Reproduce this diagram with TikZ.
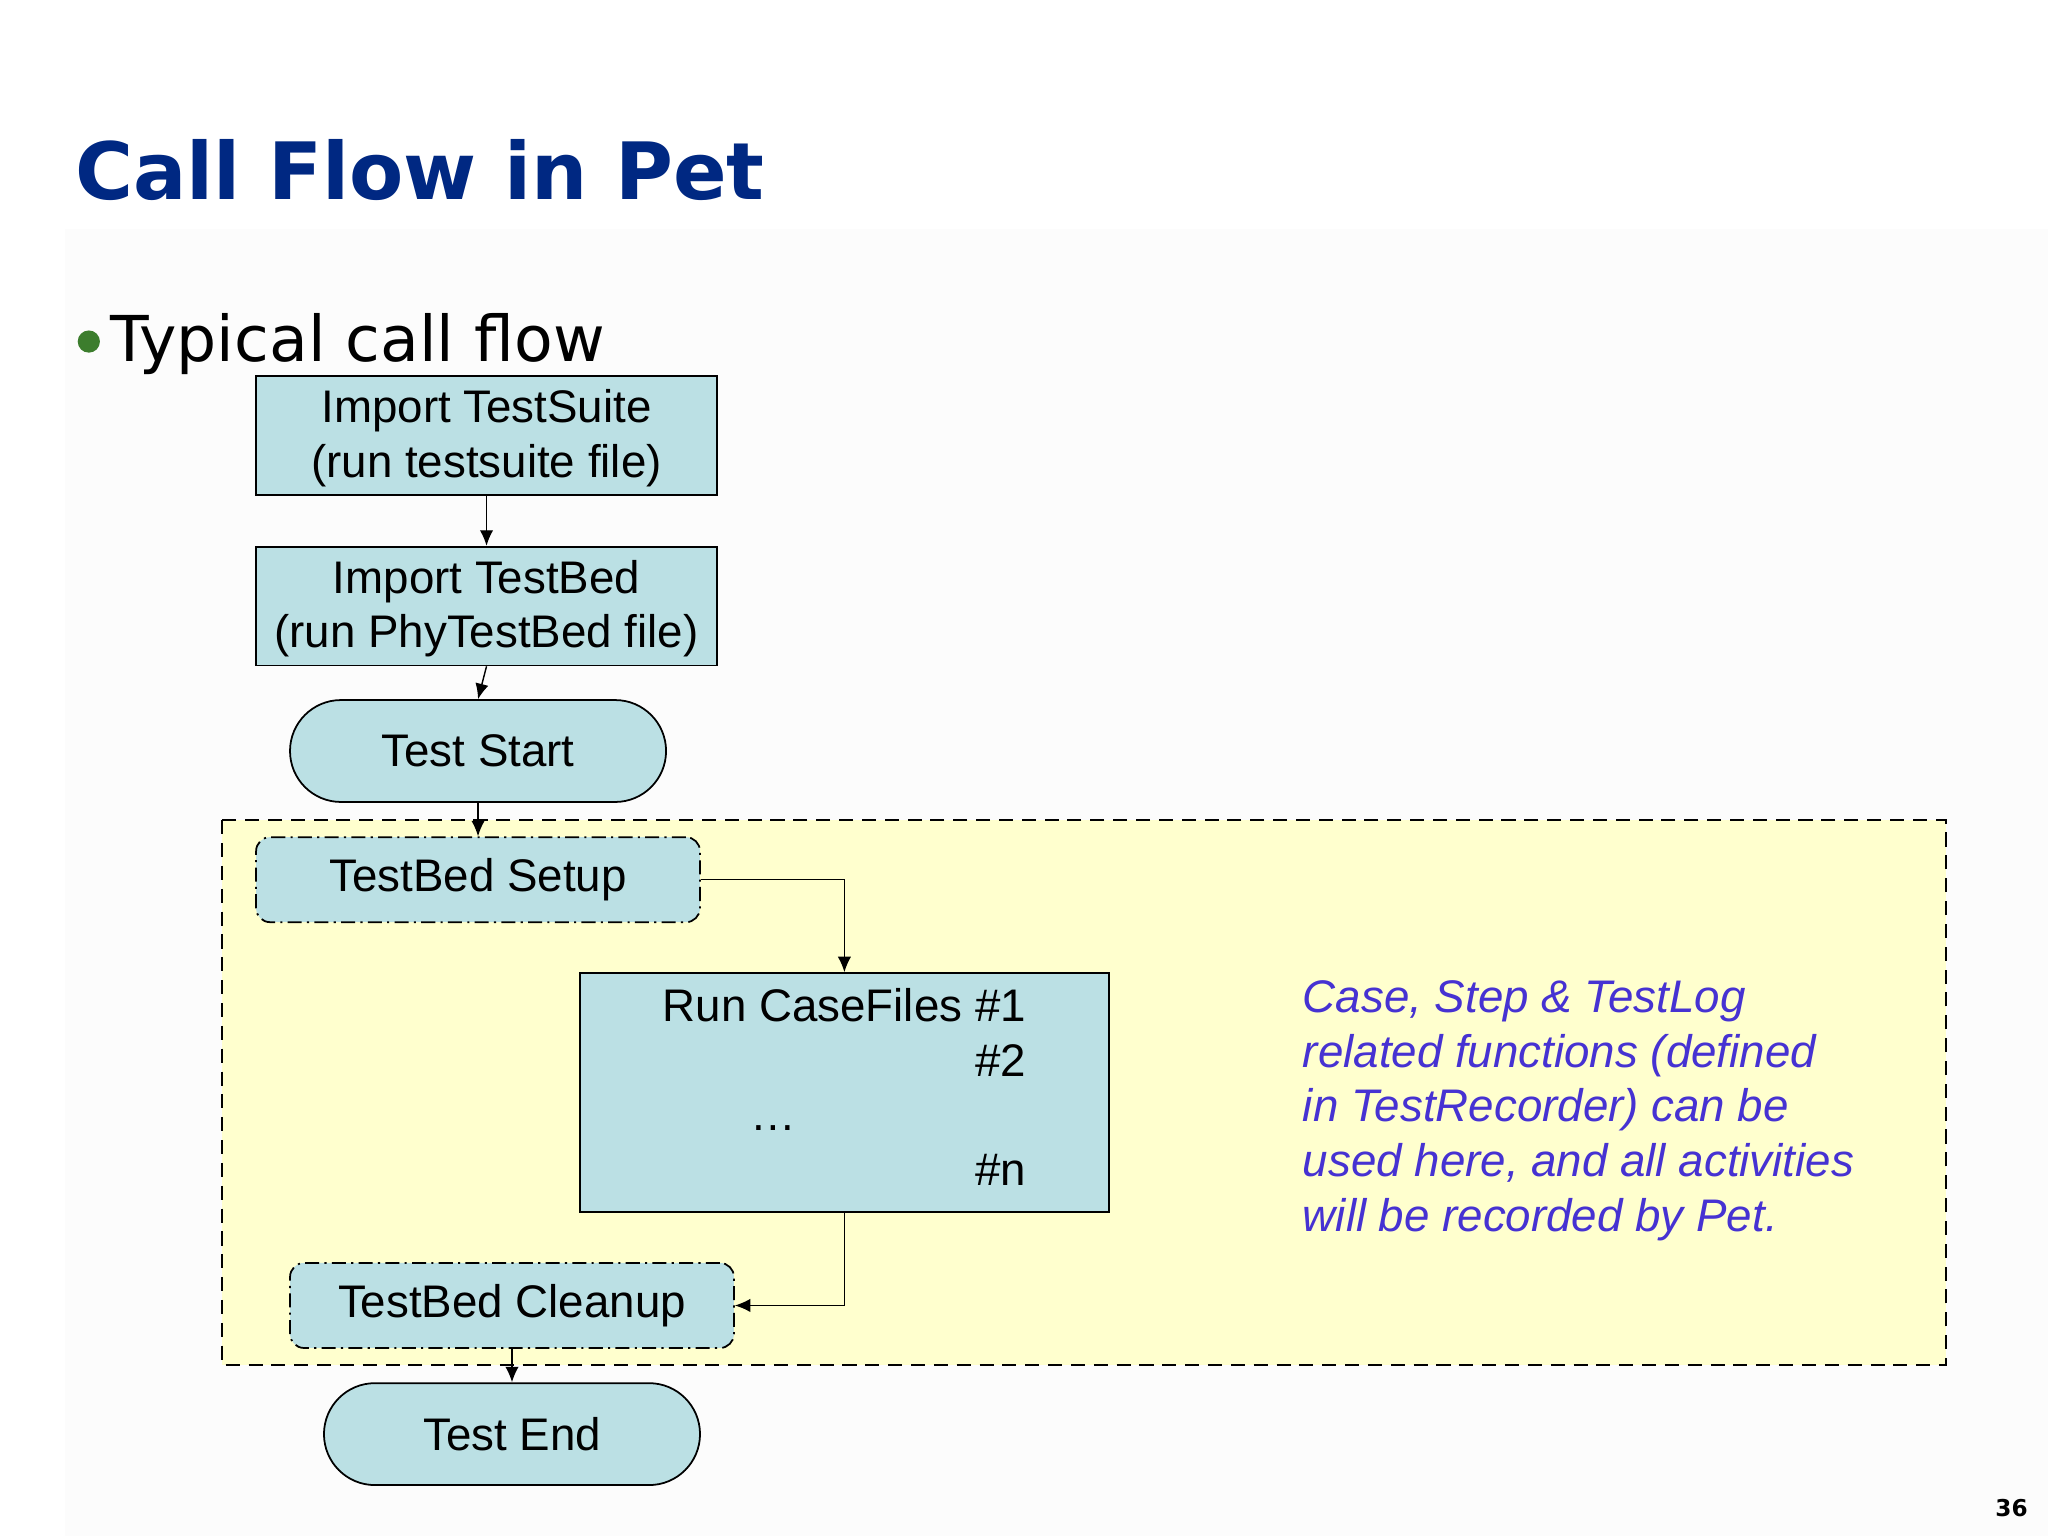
\documentclass[tikz,border=0pt]{standalone}
\usepackage{fontspec}
\setmainfont{Liberation Sans}
\newfontfamily\slidefont{DejaVu Sans}
\usepackage{tikz}
\usetikzlibrary{arrows.meta}
\tikzset{>={Latex[length=4.4pt,width=3.8pt]}}

\definecolor{boxblue}{RGB}{187,224,228}
\definecolor{noteyellow}{RGB}{255,255,206}
\definecolor{titleblue}{RGB}{0,40,130}
\definecolor{dotgreen}{RGB}{60,125,45}
\definecolor{noteviolet}{RGB}{70,50,210}

\tikzset{
  box/.style={draw, fill=boxblue, line width=0.5pt, inner sep=0pt, align=center,
    font=\fontsize{13}{15.6}\selectfont},
  filebox/.style={box, minimum width=131.2pt, minimum height=33.8pt},
  term/.style={box, rounded corners=14.5pt, minimum width=107pt, minimum height=29pt},
  bedbox/.style={box, rounded corners=4pt, minimum width=126.3pt, minimum height=24.2pt,
    dash pattern=on 4pt off 1.5pt on 0.6pt off 1.5pt},
}

\begin{document}
\begin{tikzpicture}[x=0.013061cm, y=-0.013061cm]
                \useasboundingbox (0,0) rectangle (1568,1176);
                \fill[white] (0,0) rectangle (1568,1176);
                \fill[black!1] (50,175) rectangle (1568,1176);
                % heading
                \node[anchor=base west, inner sep=0pt, text=titleblue,
                  font=\slidefont\bfseries\fontsize{22.5}{26}\selectfont] (title) at (57,153) {Call Flow in Pet};
                \fill[dotgreen] (68,261.5) circle[radius=8.5];
                \node[anchor=base west, inner sep=0pt,
                  font=\slidefont\fontsize{18}{21}\selectfont] (bullet) at (84,277) {Typical call flow};
                % region for the test recorder
                \draw[fill=noteyellow, line width=0.5pt, dash pattern=on 4pt off 2.5pt] (170,628) rectangle (1490,1045);
                \node[filebox] (suite) at (372.5,333.5) {\strut Import TestSuite\\(run testsuite file)};
                \node[filebox] (bed) at (372.5,464) {\strut Import TestBed\\(run PhyTestBed file)};
                \node[term] (start) at (366,575) {Test Start};
                \node[bedbox] (setup) at (366,673.5) {TestBed Setup};
                \node[box, minimum width=150.5pt, minimum height=68pt] (cases) at (646.5,836.5)
                  {\begin{tabular}{@{}l@{\ }r@{}}Run CaseFiles & \#1\\ & \#2\\ \hspace{25pt}\ldots & \\ & \#n\end{tabular}};
                \node[bedbox] (cleanup) at (392,999.5) {TestBed Cleanup};
                \node[term] (end) at (392,1098) {Test End};
                \node[anchor=north west, inner sep=0pt, align=left, text=noteviolet,
                  font=\itshape\fontsize{13}{15.6}\selectfont] (note) at (997,750)
                  {Case, Step \& TestLog\\related functions (defined\\in TestRecorder) can be\\used here, and all activities\\will be recorded by Pet.};
                \node[anchor=base east, inner sep=0pt,
                  font=\slidefont\bfseries\fontsize{6.6}{8}\selectfont] (page) at (1553,1161) {36};
                \draw[->] (suite) -- (bed);
                \draw[->] (bed.south) -- (start.north);
                \draw[->] (start) -- (setup);
                \draw[->] (setup.east) -| (cases.north);
                \draw[->] (cases.south) |- (cleanup.east);
                \draw[->] (cleanup) -- (end);
            \end{tikzpicture}
\end{document}
